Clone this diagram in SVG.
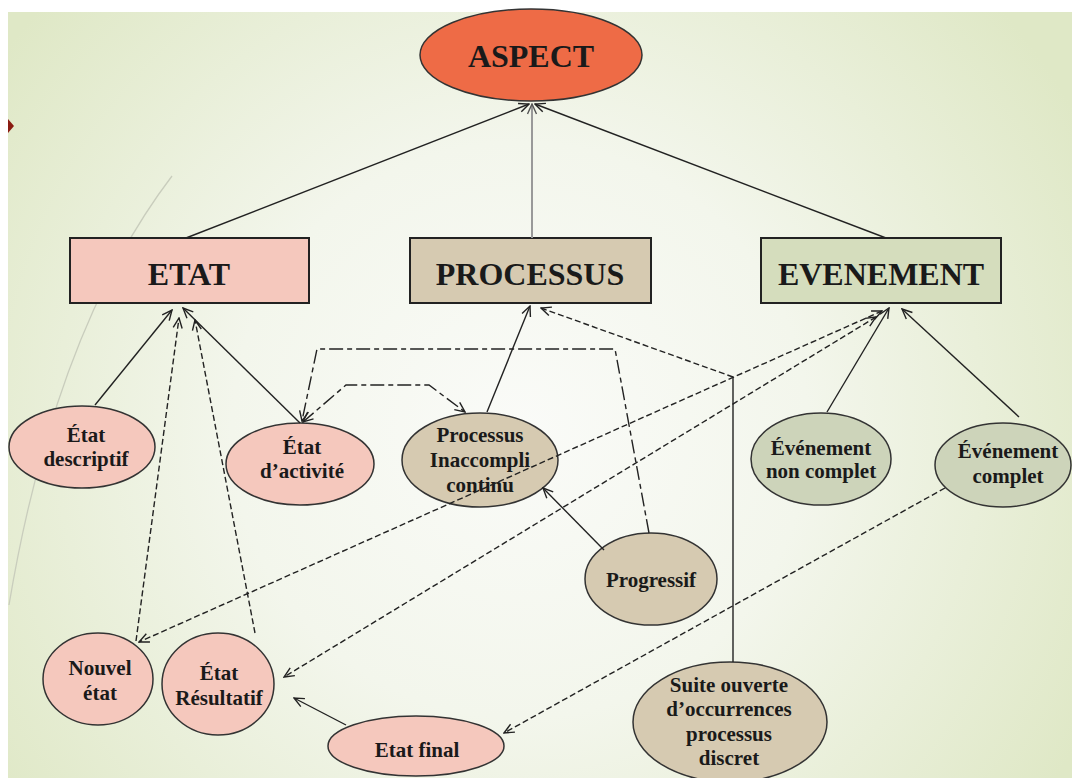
<svg xmlns="http://www.w3.org/2000/svg" width="1072" height="778" viewBox="0 0 1072 778">
<defs>
<radialGradient id="bg" cx="520" cy="430" r="640" gradientUnits="userSpaceOnUse">
<stop offset="0" stop-color="#fafbf8"/>
<stop offset="0.45" stop-color="#f3f6ec"/>
<stop offset="1" stop-color="#dfe8c6"/>
</radialGradient>
<marker id="ar" viewBox="0 0 12 12" refX="11" refY="6" markerWidth="12" markerHeight="12" markerUnits="userSpaceOnUse" orient="auto-start-reverse">
<path d="M1,1.5 L11,6 L1,10.5" fill="none" stroke="#222" stroke-width="1.4"/>
</marker>
<marker id="arg" viewBox="0 0 12 12" refX="11" refY="6" markerWidth="12" markerHeight="12" markerUnits="userSpaceOnUse" orient="auto">
<path d="M1,1.5 L11,6 L1,10.5" fill="none" stroke="#555" stroke-width="1.4"/>
</marker>
</defs>
<style>
.t{font-family:"Liberation Serif","Times New Roman",serif;font-weight:bold;fill:#1a1a1a;text-anchor:middle}
.big{font-size:32px}
.sm{font-size:21px}
.box{stroke:#222;stroke-width:2}
.el{stroke:#333;stroke-width:1.5}
.st{fill:#f5c8bd}
.pr{fill:#d6cab1}
.ev{fill:#cdd4ba}
.c{fill:none;stroke:#222;stroke-width:1.4}
.d{stroke-dasharray:6 3}
.dd{stroke-dasharray:14 4 5 4}
</style>
<rect x="0" y="0" width="1072" height="778" fill="#ffffff"/>
<rect x="8" y="12" width="1064" height="766" fill="url(#bg)"/>
<path d="M9,605 Q55,330 172,176" fill="none" stroke="#c9cdbd" stroke-width="1.3"/>
<path d="M8,119 L14,126 L8,133 Z" fill="#8a1c12"/>

<g id="aspect">
<ellipse class="el" cx="531" cy="55" rx="111" ry="46" fill="#ee6b46"/>
<text class="t big" x="531" y="67">ASPECT</text>
</g>
<g id="etat">
<rect class="box st" x="70" y="238" width="239" height="65"/>
<text class="t big" x="189" y="285">ETAT</text>
</g>
<g id="processus">
<rect class="box pr" x="410" y="238" width="241" height="65"/>
<text class="t big" x="530" y="285">PROCESSUS</text>
</g>
<g id="evenement">
<rect class="box" x="761" y="238" width="240" height="65" fill="#d5ddbd"/>
<text class="t big" x="881" y="285">EVENEMENT</text>
</g>
<g id="etat-descriptif">
<ellipse class="el st" cx="82" cy="447" rx="73" ry="41"/>
<text class="t sm" x="86" y="442">État</text>
<text class="t sm" x="86" y="466">descriptif</text>
</g>
<g id="etat-activite">
<ellipse class="el st" cx="300" cy="464" rx="74" ry="41"/>
<text class="t sm" x="302" y="454">État</text>
<text class="t sm" x="302" y="478">d’activité</text>
</g>
<g id="processus-inaccompli">
<ellipse class="el pr" cx="480" cy="460" rx="78" ry="47"/>
<text class="t sm" x="480" y="442">Processus</text>
<text class="t sm" x="480" y="467">Inaccompli</text>
<text class="t sm" x="480" y="492">continu</text>
</g>
<g id="evenement-non-complet">
<ellipse class="el ev" cx="821" cy="459" rx="70" ry="46"/>
<text class="t sm" x="821" y="455">Événement</text>
<text class="t sm" x="821" y="478">non complet</text>
</g>
<g id="evenement-complet">
<ellipse class="el ev" cx="1003" cy="465" rx="68" ry="42"/>
<text class="t sm" x="1008" y="458">Événement</text>
<text class="t sm" x="1008" y="483">complet</text>
</g>
<g id="nouvel-etat">
<ellipse class="el st" cx="98" cy="679" rx="55" ry="46"/>
<text class="t sm" x="100" y="675">Nouvel</text>
<text class="t sm" x="100" y="700">état</text>
</g>
<g id="etat-resultatif">
<ellipse class="el st" cx="218" cy="684" rx="56" ry="51"/>
<text class="t sm" x="219" y="680">État</text>
<text class="t sm" x="219" y="705">Résultatif</text>
</g>
<g id="etat-final">
<ellipse class="el st" cx="416" cy="746" rx="88" ry="30"/>
<text class="t sm" x="417" y="757">Etat final</text>
</g>
<g id="progressif">
<ellipse class="el pr" cx="651" cy="579" rx="66" ry="46"/>
<text class="t sm" x="651" y="587">Progressif</text>
</g>
<g id="suite-ouverte">
<ellipse class="el pr" cx="730" cy="722" rx="97" ry="60"/>
<text class="t sm" x="729" y="692">Suite ouverte</text>
<text class="t sm" x="729" y="716">d’occurrences</text>
<text class="t sm" x="729" y="741">processus</text>
<text class="t sm" x="729" y="765">discret</text>
</g>

<g id="connectors">
<path class="c" d="M186,238 L529,104" marker-end="url(#ar)"/>
<path d="M532,238 L532,104" fill="none" stroke="#999" stroke-width="2" marker-end="url(#arg)"/>
<path class="c" d="M886,238 L535,104" marker-end="url(#ar)"/>
<path class="c" d="M95,405 L172,310" marker-end="url(#ar)"/>
<path class="c" d="M300,423 L183,308" marker-end="url(#ar)"/>
<path class="c d" d="M136,641 L179,318" marker-end="url(#ar)"/>
<path class="c d" d="M255,633 L195,320" marker-end="url(#ar)"/>
<path class="c dd" d="M649,533 L615,349 L317,349 L302,421" marker-end="url(#ar)"/>
<path class="c dd" d="M303,422 L346,385 L429,385 L465,412" marker-start="url(#ar)" marker-end="url(#ar)"/>
<path class="c" d="M487,412 L530,306" stroke-width="1.2" marker-end="url(#ar)"/>
<path class="c" d="M733,662 L733,377"/>
<path class="c d" d="M733,377 L541,308" marker-end="url(#ar)"/>
<path class="c" d="M604,550 L543,488" stroke-width="2.2" marker-end="url(#ar)"/>
<path class="c d" d="M882,311 L139,642" stroke-width="1.2" marker-start="url(#ar)" marker-end="url(#ar)"/>
<path class="c d" d="M876,317 L284,677" stroke-width="2" marker-start="url(#ar)" marker-end="url(#ar)"/>
<path class="c d" d="M945,488 L504,733" stroke-width="1.2" marker-end="url(#ar)"/>
<path class="c" d="M346,725 L294,698" marker-end="url(#ar)"/>
<path class="c" d="M827,412 L889,308" stroke-width="1.3" marker-end="url(#ar)"/>
<path class="c" d="M1019,417 L902,309" stroke-width="1.3" marker-end="url(#ar)"/>
</g>
</svg>
